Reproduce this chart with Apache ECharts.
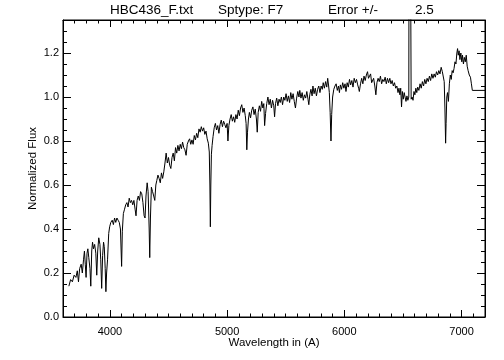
<!DOCTYPE html>
<html>
<head>
<meta charset="utf-8">
<script src="https://cdn.jsdelivr.net/npm/echarts@6/dist/echarts.min.js"></script>
<style>
  html, body { margin: 0; padding: 0; background: #fff; }
  #chart { width: 504px; height: 360px; }
</style>
</head>
<body>
<div id="chart"></div>
<script>
// spectrum as [wavelength (A), normalized flux]
var blueSide = [
  [3650, 0.14], [3665, 0.17], [3680, 0.16], [3695, 0.19], [3710, 0.18], [3722, 0.21], [3732, 0.16], [3742, 0.22],
  [3755, 0.24], [3765, 0.20], [3775, 0.26], [3783, 0.30], [3790, 0.24], [3797, 0.18], [3805, 0.29], [3812, 0.31],
  [3820, 0.27], [3830, 0.22], [3837, 0.14], [3845, 0.30], [3852, 0.34], [3860, 0.31], [3870, 0.33], [3880, 0.29],
  [3888, 0.19], [3896, 0.30], [3905, 0.36], [3915, 0.33], [3922, 0.26], [3930, 0.13], [3938, 0.28], [3946, 0.34],
  [3952, 0.32], [3960, 0.22], [3966, 0.115], [3972, 0.20], [3980, 0.26], [3990, 0.38], [3998, 0.41], [4008, 0.43],
  [4020, 0.44], [4030, 0.42], [4040, 0.45], [4050, 0.43], [4060, 0.45], [4070, 0.44], [4080, 0.43], [4090, 0.40],
  [4100, 0.23], [4106, 0.39], [4115, 0.47], [4125, 0.49], [4135, 0.51], [4145, 0.52], [4155, 0.50], [4165, 0.54],
  [4175, 0.52], [4185, 0.53], [4195, 0.51], [4205, 0.53], [4215, 0.49], [4223, 0.46], [4232, 0.53], [4242, 0.55],
  [4252, 0.53], [4262, 0.57], [4272, 0.56], [4282, 0.52], [4292, 0.46], [4300, 0.45], [4308, 0.55], [4318, 0.61],
  [4326, 0.57], [4335, 0.40], [4340, 0.27], [4346, 0.45], [4354, 0.59], [4364, 0.57], [4374, 0.55], [4383, 0.53],
  [4392, 0.60]
];
var midSide = [
  [4400, 0.62], [4410, 0.645], [4420, 0.63], [4430, 0.61], [4440, 0.655], [4450, 0.63], [4460, 0.66], [4470, 0.70],
  [4480, 0.745], [4490, 0.70], [4500, 0.725], [4510, 0.69], [4520, 0.675], [4530, 0.725], [4540, 0.745], [4550, 0.71],
  [4560, 0.77], [4570, 0.745], [4580, 0.78], [4590, 0.755], [4600, 0.785], [4610, 0.765], [4620, 0.795], [4630, 0.77],
  [4640, 0.76], [4650, 0.735], [4660, 0.785], [4670, 0.80], [4680, 0.81], [4690, 0.785], [4700, 0.805], [4710, 0.785],
  [4720, 0.825], [4730, 0.805], [4740, 0.835], [4750, 0.815], [4760, 0.855], [4770, 0.84], [4780, 0.865], [4790, 0.845],
  [4800, 0.86], [4810, 0.83], [4820, 0.845], [4830, 0.81], [4840, 0.79], [4848, 0.75], [4853, 0.60], [4857, 0.41],
  [4861, 0.60], [4866, 0.74], [4872, 0.78], [4880, 0.82], [4890, 0.86], [4900, 0.88], [4910, 0.85], [4920, 0.87],
  [4930, 0.835], [4940, 0.875], [4950, 0.895], [4960, 0.865], [4970, 0.89], [4980, 0.875], [4990, 0.86], [5000, 0.88],
  [5007, 0.80], [5015, 0.87], [5025, 0.90], [5035, 0.92], [5045, 0.89], [5055, 0.91], [5065, 0.885], [5075, 0.92],
  [5085, 0.90], [5095, 0.94], [5105, 0.915], [5115, 0.95], [5125, 0.965], [5135, 0.93], [5145, 0.95], [5155, 0.915],
  [5162, 0.88], [5168, 0.76], [5174, 0.84], [5182, 0.90], [5190, 0.93], [5200, 0.905], [5210, 0.94], [5220, 0.955],
  [5230, 0.92], [5240, 0.945], [5250, 0.90], [5257, 0.84], [5265, 0.93], [5275, 0.96], [5285, 0.935], [5295, 0.98],
  [5305, 0.95], [5313, 0.97], [5320, 0.87], [5328, 0.925], [5338, 0.97], [5348, 1.00], [5358, 0.965], [5368, 0.99],
  [5378, 0.95], [5388, 0.985], [5398, 0.96], [5405, 0.91], [5413, 0.97], [5423, 0.995], [5433, 0.96], [5443, 0.99],
  [5453, 0.975], [5463, 1.00], [5473, 0.965], [5483, 1.00], [5493, 0.985], [5503, 1.015], [5513, 0.98], [5523, 1.005],
  [5533, 0.975], [5543, 1.02], [5553, 0.99], [5563, 1.015], [5573, 0.98], [5583, 0.95], [5593, 0.995], [5603, 1.025],
  [5613, 1.00], [5620, 1.03], [5630, 0.995], [5640, 1.02], [5650, 0.985], [5660, 1.01], [5670, 0.995], [5680, 1.025],
  [5690, 0.99], [5697, 0.965], [5705, 1.01], [5715, 1.035], [5725, 1.005], [5732, 1.05], [5742, 1.015], [5752, 1.04],
  [5762, 1.005], [5772, 1.035], [5782, 1.05], [5792, 1.02], [5802, 1.05], [5812, 1.035], [5820, 1.065], [5830, 1.04],
  [5840, 1.07], [5850, 1.045], [5858, 1.085], [5866, 1.05], [5872, 1.02], [5879, 0.93], [5886, 0.80], [5892, 0.92],
  [5900, 1.00], [5910, 1.035], [5920, 1.05], [5930, 1.06], [5940, 1.03], [5950, 1.05], [5958, 1.02], [5966, 1.055],
  [5976, 1.035], [5986, 1.065], [5996, 1.04], [6006, 1.06], [6014, 1.025], [6024, 1.065], [6034, 1.045], [6044, 1.08],
  [6054, 1.055], [6064, 1.075], [6074, 1.045], [6084, 1.085], [6094, 1.065], [6104, 1.08], [6114, 1.055], [6122, 1.04],
  [6128, 1.025], [6138, 1.06], [6148, 1.085], [6158, 1.06], [6168, 1.095], [6178, 1.075], [6188, 1.10], [6198, 1.115],
  [6206, 1.085], [6214, 1.09], [6224, 1.105], [6233, 1.065], [6241, 1.06], [6250, 1.085], [6260, 1.05], [6269, 1.01],
  [6278, 1.065], [6288, 1.085], [6298, 1.07], [6308, 1.095], [6318, 1.06], [6328, 1.08], [6338, 1.07], [6348, 1.09],
  [6358, 1.06], [6368, 1.085], [6378, 1.065], [6388, 1.085], [6398, 1.06], [6408, 1.075], [6418, 1.05], [6428, 1.065],
  [6438, 1.04], [6448, 1.05], [6458, 1.02], [6466, 1.04], [6474, 1.01], [6481, 1.04], [6488, 0.955], [6495, 1.025],
  [6503, 0.99], [6511, 1.02], [6518, 1.00], [6526, 0.98], [6534, 1.005], [6542, 0.985], [6550, 1.00], [6555, 3.00],
  [6565, 3.00], [6570, 0.99], [6578, 1.00], [6586, 0.985], [6594, 1.025], [6602, 1.01], [6610, 1.04], [6618, 1.02],
  [6626, 1.045], [6636, 1.03], [6646, 1.06], [6656, 1.04], [6666, 1.07], [6676, 1.05], [6686, 1.08], [6696, 1.06],
  [6706, 1.085], [6716, 1.07], [6726, 1.095], [6736, 1.075], [6746, 1.105], [6756, 1.085], [6766, 1.105], [6776, 1.09],
  [6786, 1.115], [6796, 1.10], [6806, 1.12], [6816, 1.105], [6826, 1.135], [6836, 1.115], [6845, 1.11], [6852, 1.07],
  [6858, 0.95], [6864, 0.79], [6868, 0.88]
];
var redSide = [
  [6874, 1.00], [6880, 1.02], [6888, 0.98], [6896, 1.06], [6904, 1.10], [6912, 1.08], [6920, 1.12], [6928, 1.11],
  [6936, 1.13], [6944, 1.16], [6952, 1.15], [6960, 1.20], [6966, 1.22], [6972, 1.19], [6979, 1.21], [6986, 1.17],
  [6994, 1.20], [7002, 1.16], [7008, 1.19], [7016, 1.15], [7024, 1.18], [7032, 1.16], [7040, 1.19], [7048, 1.14],
  [7056, 1.12], [7066, 1.10], [7076, 1.09], [7084, 1.06], [7092, 1.03], [7200, 1.03]
];

var xMajor = [4000, 5000, 6000, 7000];
var yMajor = [0, 0.2, 0.4, 0.6, 0.8, 1.0, 1.2];
var titleParts = ['HBC436_F.txt', 'Sptype: F7', 'Error +/-', '2.5'];

var FONT = 'Liberation Sans';
var INK = '#000';

var chart = echarts.init(document.getElementById('chart'));

var pts = blueSide.concat(midSide, redSide);

function isMajor(list, v) {
  for (var i = 0; i < list.length; i++) {
    if (Math.abs(list[i] - v) < 1e-6) return true;
  }
  return false;
}

function baseAx(g, pos, min, max, interval, tickLen, lineOn) {
  return {
    type: 'value', gridIndex: g, position: pos, min: min, max: max, interval: interval,
    splitLine: { show: false },
    axisLine: { show: lineOn, onZero: false, lineStyle: { color: INK, width: 1 } },
    axisTick: { show: true, inside: true, length: tickLen, lineStyle: { color: INK } },
    axisLabel: { show: false }
  };
}

function hiddenAx(g, pos, min, max) {
  return { type: 'value', gridIndex: g, position: pos, min: min, max: max, show: false };
}

// grid 0: data + minor ticks bottom/left (+ frame)
// grid 1: major x bottom with labels (wide box from 3000 so steps land on 4000..7000)
// grid 2: minor ticks top/right
// grid 3: major x top (wide box)
// grid 4: major y left with labels
// grid 5: major y right
var xBottomMinor = baseAx(0, 'bottom', 3600, 7200, 100, 3.5, true);
xBottomMinor.name = 'Wavelength in (A)';
xBottomMinor.nameLocation = 'middle';
xBottomMinor.nameGap = 20;
xBottomMinor.nameTextStyle = { color: INK, fontFamily: FONT, fontSize: 11.5 };
var yLeftMinor = baseAx(0, 'left', 0, 1.35, 0.05, 4, true);
yLeftMinor.name = 'Normalized Flux';
yLeftMinor.nameLocation = 'middle';
yLeftMinor.nameRotate = 90;
yLeftMinor.nameGap = 24;
yLeftMinor.nameTextStyle = { color: INK, fontFamily: FONT, fontSize: 11.5 };

var xBottomMajor = baseAx(1, 'bottom', 3000, 7200, 1000, 7, false);
xBottomMajor.axisLabel = {
  show: true, color: INK, fontFamily: FONT, fontSize: 11, margin: 9,
  formatter: function (v) { return isMajor(xMajor, v) ? String(v) : ''; }
};

var xTopMinor = baseAx(2, 'top', 3600, 7200, 100, 3.5, true);
var yRightMinor = baseAx(2, 'right', 0, 1.35, 0.05, 4, true);

var xTopMajor = baseAx(3, 'top', 3000, 7200, 1000, 7, false);

var yLeftMajor = baseAx(4, 'left', 0, 1.35, 0.2, 8, false);
yLeftMajor.axisLabel = {
  show: true, color: INK, fontFamily: FONT, fontSize: 11, margin: 4,
  formatter: function (v) { return isMajor(yMajor, v) ? v.toFixed(1) : ''; }
};

var yRightMajor = baseAx(5, 'right', 0, 1.35, 0.2, 8, false);

var plotW = 504 - 63 - 19;
var box = { left: 63, right: 19, top: 20, bottom: 43 };
var frameBox = { left: 63, right: 19, top: 20, bottom: 43, show: true, borderColor: INK, borderWidth: 1, backgroundColor: 'transparent' };
var wideBox = { left: 63 - plotW * 600 / 3600, right: 19, top: 20, bottom: 43, outerBoundsMode: 'none' };
var titleX = [110, 218, 328, 415];

chart.setOption({
  animation: false,
  backgroundColor: '#fff',
  title: titleParts.map(function (t, i) {
    return {
      text: t, left: titleX[i], top: 3, padding: 0,
      textStyle: { color: INK, fontFamily: FONT, fontSize: 13.5, fontWeight: 'normal' }
    };
  }),
  grid: [frameBox, wideBox, box, wideBox, box, box],
  xAxis: [
    xBottomMinor, xBottomMajor, xTopMinor, xTopMajor,
    hiddenAx(4, 'bottom', 3600, 7200), hiddenAx(5, 'bottom', 3600, 7200)
  ],
  yAxis: [
    yLeftMinor, hiddenAx(1, 'left', 0, 1.35), yRightMinor, hiddenAx(3, 'left', 0, 1.35),
    yLeftMajor, yRightMajor
  ],
  series: [{
    type: 'line',
    xAxisIndex: 0,
    yAxisIndex: 0,
    data: pts,
    symbol: 'none',
    clip: true,
    lineStyle: { color: INK, width: 1 }
  }]
});
</script>
</body>
</html>
